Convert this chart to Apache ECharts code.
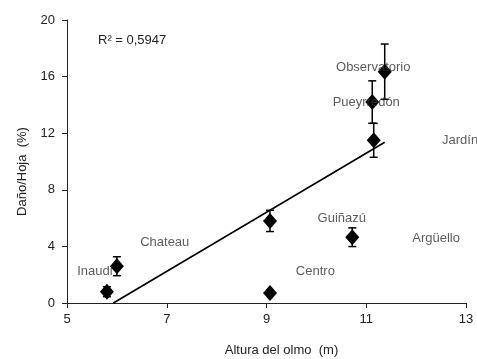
<!DOCTYPE html>
<html>
<head>
<meta charset="utf-8">
<script src="https://cdn.jsdelivr.net/npm/echarts@6/dist/echarts.min.js"></script>
<style>
  html, body { margin: 0; padding: 0; background: #fff; }
  #chart { width: 477px; height: 359px; }
</style>
</head>
<body>
<div id="chart"></div>
<script>
// sites: height (m), damage (%), error (+/-)
const heights = [5.8, 6.0, 9.07, 9.07, 10.72, 11.15, 11.12, 11.37];
const damage = [0.8, 2.6, 5.8, 0.7, 4.65, 11.5, 14.2, 16.35];
const errors = [0.35, 0.67, 0.75, 0, 0.66, 1.2, 1.5, 1.95];

// trend line end points
const trendX = [5.93, 11.37];
const trendY = [0, 11.36];

// site labels, placed in data units
const siteNames = ['Observatorio', 'Pueyrredón', 'Chateau', 'Inaudi', 'Guiñazú', 'Argüello', 'Centro'];
const labelX = [11.14, 11.0, 6.96, 5.56, 10.51, 12.4, 9.98];
const labelY = [16.65, 14.2, 4.3, 2.2, 6.0, 4.55, 2.2];
const jardinPos = [12.52, 11.5];

const xTicks = [5, 7, 9, 11, 13];
const yTicks = [0, 4, 8, 12, 16, 20];

const chart = echarts.init(document.getElementById('chart'));
const font = 'Liberation Sans, Arial, sans-serif';

const points = heights.map((h, i) => [h, damage[i], errors[i]]);

chart.setOption({
  animation: false,
  textStyle: { fontFamily: font },
  grid: { left: 67, top: 20, right: 11, bottom: 56, outerBoundsMode: 'none', containLabel: false },
  xAxis: {
    type: 'value', min: xTicks[0], max: xTicks[xTicks.length - 1], interval: 2,
    name: 'Altura del olmo  (m)', nameLocation: 'middle', nameGap: 41,
    nameTextStyle: { color: '#222', fontSize: 13, fontFamily: font, padding: [0, 0, 0, 30] },
    axisLine: { lineStyle: { color: '#222', width: 1 } },
    axisTick: { show: true, length: 5, lineStyle: { color: '#222' } },
    axisLabel: { color: '#222', fontSize: 13, margin: 10 },
    splitLine: { show: false }
  },
  yAxis: {
    type: 'value', min: yTicks[0], max: yTicks[yTicks.length - 1], interval: 4,
    name: 'Daño/Hoja  (%)', nameLocation: 'middle', nameGap: 38,
    nameTextStyle: { color: '#222', fontSize: 13, fontFamily: font, padding: [0, 20, 0, 0] },
    axisLine: { show: true, lineStyle: { color: '#222', width: 1 } },
    axisTick: { show: true, length: 5, lineStyle: { color: '#222' } },
    axisLabel: { color: '#222', fontSize: 13, margin: 12 },
    splitLine: { show: false }
  },
  series: [
    {
      type: 'line',
      data: trendX.map((x, i) => [x, trendY[i]]),
      symbol: 'none',
      lineStyle: { color: '#000', width: 1.6 },
      z: 2
    },
    {
      type: 'custom',
      data: points,
      renderItem: function (params, api) {
        const e = api.value(2);
        if (!e) return null;
        const x = api.value(0), y = api.value(1);
        const top = api.coord([x, y + e]);
        const bot = api.coord([x, y - e]);
        const cap = 4;
        const st = { stroke: '#000', lineWidth: 1.5 };
        return {
          type: 'group',
          children: [
            { type: 'line', shape: { x1: top[0], y1: top[1], x2: bot[0], y2: bot[1] }, style: st },
            { type: 'line', shape: { x1: top[0] - cap, y1: top[1], x2: top[0] + cap, y2: top[1] }, style: st },
            { type: 'line', shape: { x1: bot[0] - cap, y1: bot[1], x2: bot[0] + cap, y2: bot[1] }, style: st }
          ]
        };
      },
      z: 3
    },
    {
      type: 'scatter',
      data: points,
      symbol: 'diamond',
      symbolSize: [14, 16],
      itemStyle: { color: '#000', opacity: 1 },
      z: 4
    },
    {
      type: 'scatter',
      data: siteNames.map((n, i) => ({ value: [labelX[i], labelY[i]], name: n })),
      symbolSize: 0,
      silent: true,
      label: {
        show: true, position: 'inside', formatter: '{b}',
        color: '#333', fontSize: 13, fontFamily: font
      },
      z: 5
    },
    {
      type: 'scatter',
      data: [{ value: jardinPos, name: 'Jardín' }],
      symbolSize: 0,
      silent: true,
      label: {
        show: true, position: 'right', distance: 0, formatter: '{b}',
        color: '#333', fontSize: 13, fontFamily: font
      },
      z: 5
    }
  ],
  graphic: [
    {
      type: 'text', left: 98, top: 34,
      style: { text: 'R² = 0,5947', fill: '#222', fontSize: 13, fontFamily: font }
    }
  ]
});
</script>
</body>
</html>
